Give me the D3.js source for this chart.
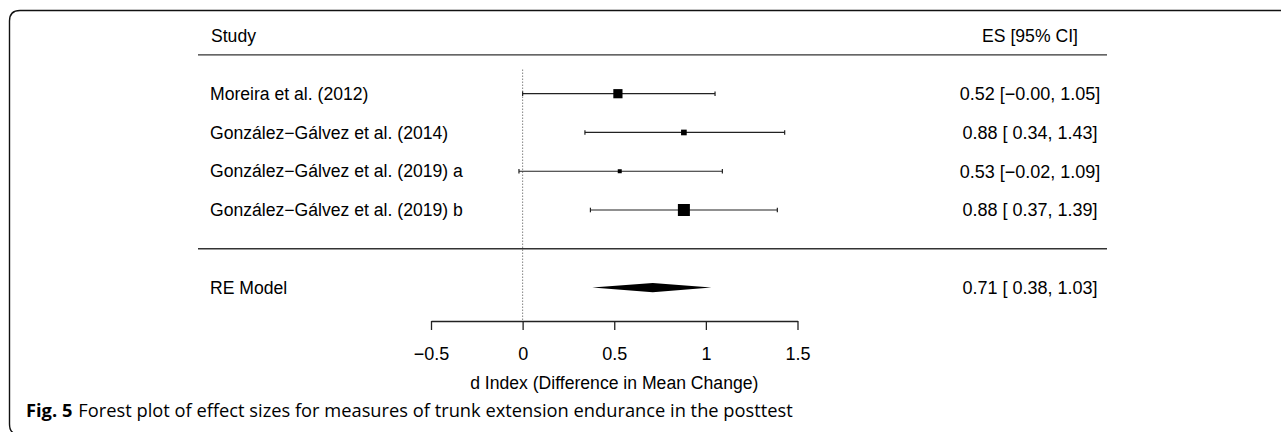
<!DOCTYPE html>
<html>
<head>
<meta charset="utf-8">
<script src="https://cdn.jsdelivr.net/npm/d3@7"></script>
<style>
  body { margin: 0; background: #fff; }
  svg { display: block; }
  text { font-family: "Liberation Sans", Arial, sans-serif; fill: #000; }
  .caption { font-family: "Open Sans", "Noto Sans", sans-serif; }
</style>
</head>
<body>
<svg id="chart" width="1281" height="432"></svg>
<script>
// study rows, top to bottom
var studies = ["Moreira et al. (2012)", "González−Gálvez et al. (2014)",
  "González−Gálvez et al. (2019) a", "González−Gálvez et al. (2019) b"];
var estimates = [0.52, 0.88, 0.53, 0.88];
var lower = [-0.00, 0.34, -0.02, 0.37];
var upper = [1.05, 1.43, 1.09, 1.39];
var esLabels = ["0.52 [−0.00, 1.05]", "0.88 [ 0.34, 1.43]",
  "0.53 [−0.02, 1.09]", "0.88 [ 0.37, 1.39]"];

// pooled random-effects model
var reEstimate = 0.71, reLower = 0.38, reUpper = 1.03;
var reLabel = "0.71 [ 0.38, 1.03]";

var tickValues = [-0.5, 0, 0.5, 1, 1.5];
var tickLabels = ["−0.5", "0", "0.5", "1", "1.5"];

var svg = d3.select("#chart");
var fs = "17.6px";

// figure frame (rounded corner panel)
svg.append("path")
  .attr("d", "M1290,10.5 H20 Q9.5,10.5 9.5,21 V424 Q9.5,434 18,434")
  .attr("fill", "none")
  .attr("stroke", "#111")
  .attr("stroke-width", 1.4);

// scales
var x = d3.scaleLinear().domain([-0.5, 1.5]).range([431, 797.5]);
// rows: 4 studies at 4..1, separator at 0, RE model at -1
var y = d3.scaleLinear().domain([4, 1]).range([93.7, 210]);

var k = studies.length;
var rows = studies.map(function (s, i) {
  return { study: s, est: estimates[i], lo: lower[i], hi: upper[i], label: esLabels[i], row: k - i };
});

// box size from inverse standard error (as metafor does)
var wi = rows.map(function (d) { return 1 / ((d.hi - d.lo) / (2 * 1.96)); });
var size = d3.scaleLinear().domain(d3.extent(wi)).range([4, 12]);

// header
svg.append("text").attr("x", 211).attr("y", y(5.5)).attr("dy", "0.35em")
  .style("font-size", fs).text("Study");
svg.append("text").attr("x", 1030).attr("y", y(5.5)).attr("dy", "0.35em")
  .attr("text-anchor", "middle").style("font-size", fs).text("ES [95% CI]");

// header and separator rules
[5, 0].forEach(function (r) {
  svg.append("line")
    .attr("x1", 198).attr("x2", 1107)
    .attr("y1", y(r)).attr("y2", y(r))
    .attr("stroke", "#333").attr("stroke-width", 1.3);
});

// reference line at 0
svg.append("line")
  .attr("x1", x(0)).attr("x2", x(0))
  .attr("y1", y(4.62)).attr("y2", 321)
  .attr("stroke", "#444").attr("stroke-width", 1)
  .attr("stroke-dasharray", "1,2");

// study rows
var g = svg.append("g").attr("class", "studies");

g.selectAll(".ci").data(rows).enter().append("line")
  .attr("class", "ci")
  .attr("x1", function (d) { return x(d.lo); })
  .attr("x2", function (d) { return x(d.hi); })
  .attr("y1", function (d) { return y(d.row); })
  .attr("y2", function (d) { return y(d.row); })
  .attr("stroke", "#222").attr("stroke-width", 1.2);

["lo", "hi"].forEach(function (end) {
  g.selectAll(".end-" + end).data(rows).enter().append("line")
    .attr("class", "end-" + end)
    .attr("x1", function (d) { return x(d[end]); })
    .attr("x2", function (d) { return x(d[end]); })
    .attr("y1", function (d) { return y(d.row) - 2.3; })
    .attr("y2", function (d) { return y(d.row) + 2.3; })
    .attr("stroke", "#222").attr("stroke-width", 1.2);
});

g.selectAll(".box").data(rows).enter().append("rect")
  .attr("class", "box")
  .attr("x", function (d, i) { return x(d.est) - size(wi[i]) / 2; })
  .attr("y", function (d, i) { return y(d.row) - size(wi[i]) / 2; })
  .attr("width", function (d, i) { return size(wi[i]); })
  .attr("height", function (d, i) { return size(wi[i]); })
  .attr("fill", "#000");

g.selectAll(".study").data(rows).enter().append("text")
  .attr("class", "study")
  .attr("x", 210).attr("y", function (d) { return y(d.row); })
  .attr("dy", "0.35em").style("font-size", fs)
  .text(function (d) { return d.study; });

g.selectAll(".es").data(rows).enter().append("text")
  .attr("class", "es")
  .attr("x", 1030).attr("y", function (d) { return y(d.row); })
  .attr("dy", "0.35em").attr("text-anchor", "middle").style("font-size", "18px")
  .text(function (d) { return d.label; });

// RE model diamond
var yRE = y(-1);
svg.append("polygon")
  .attr("points", [
    [x(reLower), yRE], [x(reEstimate), yRE - 4.6],
    [x(reUpper), yRE], [x(reEstimate), yRE + 4.6]
  ].map(function (p) { return p.join(","); }).join(" "))
  .attr("fill", "#000");

svg.append("text").attr("x", 210).attr("y", yRE).attr("dy", "0.35em")
  .style("font-size", fs).text("RE Model");
svg.append("text").attr("x", 1030).attr("y", yRE).attr("dy", "0.35em")
  .attr("text-anchor", "middle").style("font-size", "18px").text(reLabel);

// x axis
var xAxis = d3.axisBottom(x)
  .tickValues(tickValues)
  .tickFormat(function (d, i) { return tickLabels[i]; })
  .tickSize(9)
  .tickSizeOuter(0);

var axisG = svg.append("g")
  .attr("transform", "translate(0,321)")
  .call(xAxis);
axisG.select(".domain").attr("stroke", "#222").attr("stroke-width", 1.3);
axisG.selectAll(".tick line").attr("stroke", "#222").attr("stroke-width", 1.3);
axisG.selectAll(".tick text")
  .attr("y", 38.5).attr("dy", 0)
  .style("font-family", "'Liberation Sans', Arial, sans-serif")
  .style("font-size", "18px").attr("fill", "#000");

svg.append("text")
  .attr("x", x(0.5)).attr("y", 389)
  .attr("text-anchor", "middle").style("font-size", fs)
  .text("d Index (Difference in Mean Change)");

// caption
var cap = svg.append("text").attr("class", "caption")
  .attr("x", 26).attr("y", 417).style("font-size", "18.3px");
cap.append("tspan").style("font-weight", "bold").text("Fig. 5");
cap.append("tspan").attr("dx", 6).text("Forest plot of effect sizes for measures of trunk extension endurance in the posttest");
</script>
</body>
</html>
